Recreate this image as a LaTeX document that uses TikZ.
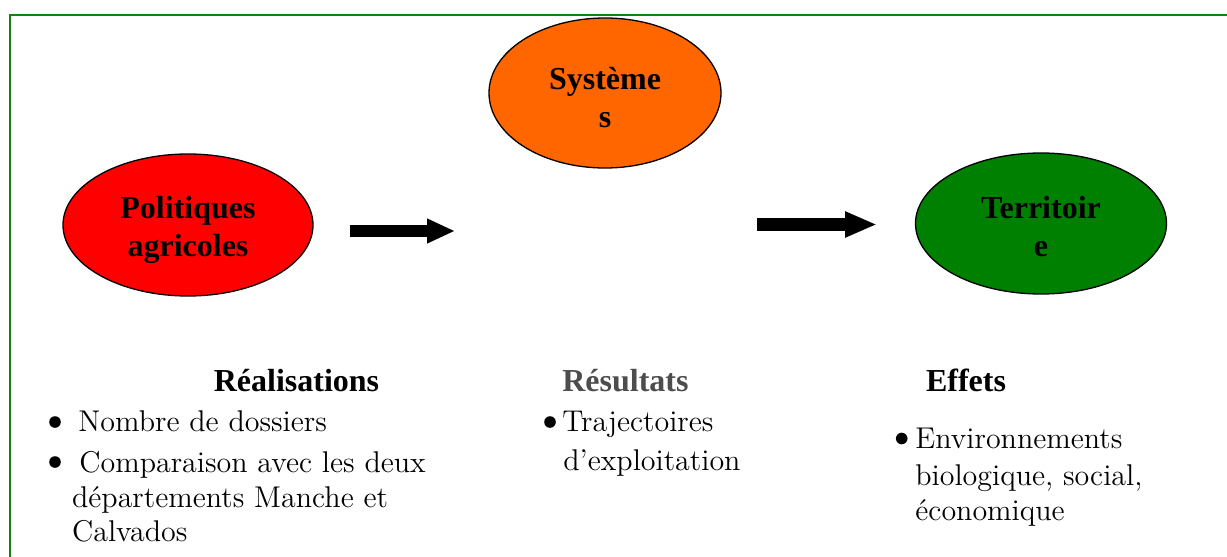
\documentclass[tikz,border=0pt]{standalone}
\usepackage{fontspec}
\setmainfont{lmroman12-regular.otf}
\newfontfamily\titrefont{Liberation Serif}
\usetikzlibrary{shapes.geometric,arrows.meta}
\definecolor{vertcadre}{RGB}{16,132,16}
\definecolor{rougepol}{RGB}{255,0,0}
\definecolor{orangesys}{RGB}{255,102,0}
\definecolor{vertterr}{RGB}{0,128,0}
\definecolor{grisres}{RGB}{77,77,77}

\begin{document}
\begin{tikzpicture}[x=0.5pt,y=-0.5pt,
  font=\fontsize{15}{17}\selectfont,
  bulle/.style={ellipse,draw,line width=0.65pt,inner sep=0pt},
  nom/.style={align=center,inner sep=0pt,font=\titrefont\bfseries\fontsize{16}{19}\selectfont},
  titre/.style={anchor=base,inner sep=0pt,font=\titrefont\bfseries\fontsize{16}{19}\selectfont},
  ligne/.style={anchor=base west,inner sep=0pt},
  puce/.style={circle,fill=black,inner sep=0pt,minimum size=5.8pt}]

\useasboundingbox (0,0) rectangle (1227,557);
\draw[vertcadre,line width=0.85pt] (9.8,557) -- (9.8,15) -- (1227,15);

% les trois ellipses
\node[bulle,fill=rougepol,minimum width=125pt,minimum height=71pt] (pol) at (188,225) {};
\node[bulle,fill=orangesys,minimum width=116pt,minimum height=75pt] (sys) at (605,93) {};
\node[bulle,fill=vertterr,minimum width=125.5pt,minimum height=70.5pt] (terr) at (1041,223.5) {};
\node[nom] (poltxt) at ([yshift=-2.3pt]pol.center) {Politiques\\agricoles};
\node[nom] (systxt) at ([yshift=-2.5pt]sys.center) {Système\\s};
\node[nom] (terrtxt) at ([yshift=-1.5pt]terr.center) {Territoir\\e};

% fleches
\coordinate (f1a) at (350,231);
\coordinate (f1b) at (455,231);
\coordinate (f2a) at (757,224.5);
\coordinate (f2b) at (877,224.5);
\draw[line width=6pt,-{Triangle[length=14pt,width=11.5pt]}] (f1a) -- (f1b);
\draw[line width=6.5pt,-{Triangle[length=16pt,width=12pt]}] (f2a) -- (f2b);

% Realisations
\node[titre] (real) at (296.5,391.7) {Réalisations};
\node[puce] (p1) at (55,422) {};
\node[ligne] (real1) at (78,431.7) {Nombre de dossiers};
\node[puce] (p2) at (55,462) {};
\node[ligne] (real2) at (79,472) {Comparaison avec les deux};
\node[ligne] (real3) at (71.7,507) {départements Manche et};
\node[ligne] (real4) at (71.7,541.5) {Calvados};

% Resultats
\node[titre,grisres] (res) at (625.5,391.7) {Résultats};
\node[puce] (p3) at (550,422) {};
\node[ligne] (res1) at (562,431.7) {Trajectoires};
\node[ligne] (res2) at (563,470) {d’exploitation};

% Effets
\node[titre] (eff) at (966,391.7) {Effets};
\node[puce] (p4) at (901.7,438.5) {};
\node[ligne] (eff1) at (915,448.3) {Environnements};
\node[ligne] (eff2) at (915,485) {biologique, social,};
\node[ligne] (eff3) at (915,520) {économique};

\end{tikzpicture}
\end{document}
